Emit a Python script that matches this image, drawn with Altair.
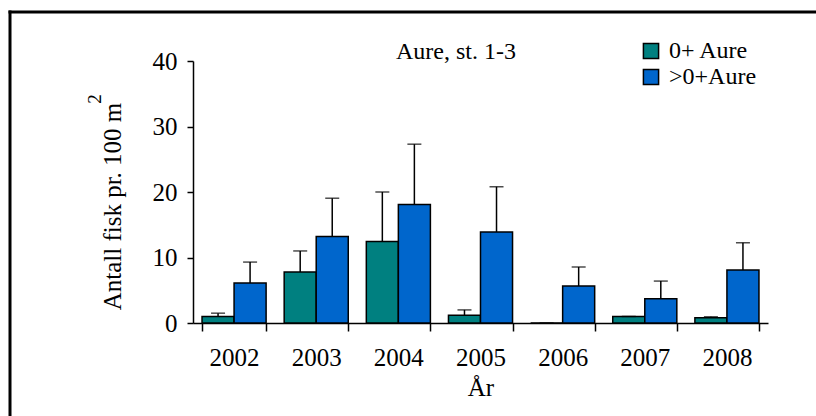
import altair as alt
import pandas as pd

years = ["2002", "2003", "2004", "2005", "2006", "2007", "2008"]
series = ["0+ Aure", ">0+Aure"]
young = [1.0, 7.8, 12.45, 1.2, 0.0, 1.0, 0.8]
young_err = [0.5, 3.2, 7.55, 0.8, 0.0, 0.0, 0.15]
older = [6.1, 13.2, 18.1, 13.9, 5.65, 3.7, 8.1]
older_err = [3.2, 5.85, 9.2, 6.9, 2.9, 2.7, 4.15]
colors = ["#008080", "#0066CC"]

rows = []
for i, y in enumerate(years):
    rows.append({"year": y, "series": series[0], "value": young[i], "upper": young[i] + young_err[i]})
    rows.append({"year": y, "series": series[1], "value": older[i], "upper": older[i] + older_err[i]})
df = pd.DataFrame(rows)

FONT = "Liberation Serif"
W, H = 575, 262
PL, PT, PR, PB = 193, 61, 48, 93

common_axis = dict(labelFont=FONT, titleFont=FONT, titleFontWeight="normal",
                   grid=False, domainColor="black", tickColor="black",
                   labelColor="black", titleColor="black", domainWidth=1.5, tickWidth=1.5)

x = alt.X("year:N", title="År", sort=years,
          scale=alt.Scale(paddingInner=0.22, paddingOuter=0.11),
          axis=alt.Axis(labelAngle=0, tickBand="extent", tickSize=8, labelPadding=14,
                        labelFontSize=25, titleFontSize=25, titlePadding=5, **common_axis))
xo = alt.XOffset("series:N", sort=series, scale=alt.Scale(paddingInner=0, paddingOuter=0))
y = alt.Y("value:Q", title="Antall fisk pr. 100 m",
          scale=alt.Scale(domain=[0, 40], nice=False),
          axis=alt.Axis(values=[0, 10, 20, 30, 40], tickSize=6, labelPadding=10,
                        labelFontSize=25, titleFontSize=25, titleAngle=270,
                        titleBaseline="middle", titleX=-81, titleY=145, **common_axis))

base = alt.Chart(df)

bars = base.mark_bar(stroke="black", strokeWidth=1.5).encode(
    x=x, xOffset=xo, y=y,
    color=alt.Color("series:N", sort=series,
                    scale=alt.Scale(domain=series, range=colors),
                    legend=alt.Legend(title=None, orient="none", legendX=446, legendY=-22,
                                      symbolType="square", symbolSize=230,
                                      symbolStrokeColor="black", symbolStrokeWidth=1.5,
                                      labelFontSize=24, labelFont=FONT, labelOffset=6,
                                      rowPadding=2, padding=0, labelColor="black")),
)

err = base.mark_rule(color="black", strokeWidth=1.5).encode(
    x="year:N", xOffset=alt.XOffset("series:N", sort=series), y="value:Q", y2="upper:Q"
)
caps = base.mark_tick(color="black", thickness=1.5, size=14, orient="horizontal").encode(
    x="year:N", xOffset=alt.XOffset("series:N", sort=series), y="upper:Q"
)

title_df = pd.DataFrame({"t": ["Aure, st. 1-3"]})
title = alt.Chart(title_df).mark_text(font=FONT, fontSize=24, align="center", baseline="middle",
                                      color="black").encode(
    text="t:N", x=alt.value(263), y=alt.value(-9))

sup_df = pd.DataFrame({"t": ["2"]})
sup = alt.Chart(sup_df).mark_text(font=FONT, fontSize=19, align="center", baseline="middle",
                                  angle=270, color="black").encode(
    text="t:N", x=alt.value(-98), y=alt.value(38))

frame_df = pd.DataFrame({"f": [1]})
frame_top = alt.Chart(frame_df).mark_rule(color="black", strokeWidth=3).encode(
    x=alt.value(-184.5), x2=alt.value(W + PR), y=alt.value(-49))
frame_left = alt.Chart(frame_df).mark_rule(color="black", strokeWidth=3).encode(
    x=alt.value(-183), y=alt.value(-50.5), y2=alt.value(H + PB))

chart = alt.layer(frame_top, frame_left, bars, err, caps, title, sup).properties(
    width=W, height=H,
    autosize=alt.AutoSizeParams(type="none"),
    padding={"left": PL, "top": PT, "right": PR, "bottom": PB},
    background="white",
).configure_view(stroke=None).configure_legend(labelFont=FONT, labelFontSize=24)

chart.save("out.html", embed_options={"renderer": "svg", "actions": False})
